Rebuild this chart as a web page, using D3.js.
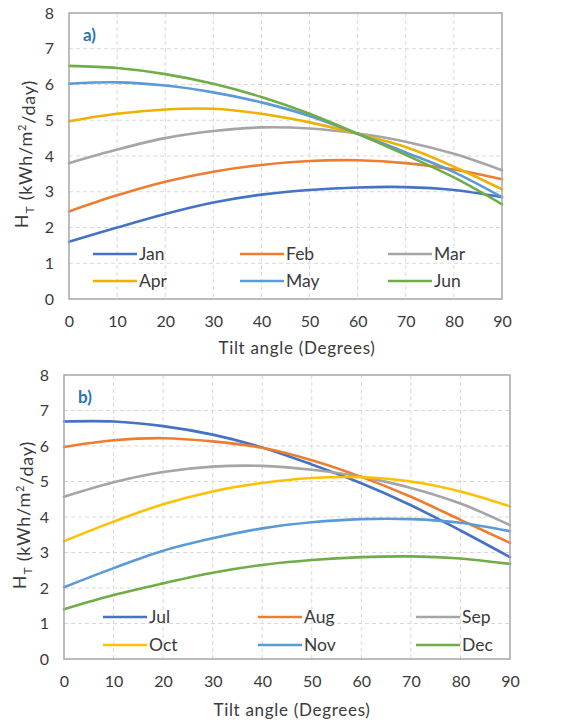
<!DOCTYPE html>
<html><head><meta charset="utf-8">
<script src="https://cdn.jsdelivr.net/npm/d3@7"></script>
<style>
html,body{margin:0;padding:0;background:#fff;}
svg{display:block;font-family:Lato,"Open Sans",sans-serif;}
</style></head>
<body>
<svg id="chart" width="562" height="722"></svg>
<script>
const angles = [0, 10, 20, 30, 40, 50, 60, 70, 80, 90];
const xTicks = [0, 10, 20, 30, 40, 50, 60, 70, 80, 90];
const yTicks = [0, 1, 2, 3, 4, 5, 6, 7, 8];

const monthsA = ["Jan", "Feb", "Mar", "Apr", "May", "Jun"];
const jan = [1.6, 2.0, 2.38, 2.7, 2.92, 3.05, 3.12, 3.13, 3.05, 2.85];
const feb = [2.45, 2.9, 3.28, 3.56, 3.75, 3.86, 3.88, 3.8, 3.62, 3.35];
const mar = [3.8, 4.18, 4.5, 4.7, 4.8, 4.77, 4.63, 4.4, 4.06, 3.6];
const apr = [4.97, 5.18, 5.3, 5.32, 5.18, 4.94, 4.62, 4.25, 3.7, 3.07];
const may = [6.02, 6.06, 5.97, 5.78, 5.5, 5.12, 4.62, 4.1, 3.55, 2.85];
const jun = [6.52, 6.46, 6.29, 6.02, 5.65, 5.18, 4.62, 4.03, 3.4, 2.65];

const monthsB = ["Jul", "Aug", "Sep", "Oct", "Nov", "Dec"];
const jul = [6.69, 6.69, 6.56, 6.32, 5.96, 5.48, 4.95, 4.33, 3.62, 2.87];
const aug = [5.97, 6.16, 6.22, 6.13, 5.95, 5.6, 5.13, 4.57, 3.92, 3.27];
const sep = [4.57, 4.98, 5.27, 5.42, 5.44, 5.33, 5.13, 4.82, 4.38, 3.77];
const oct = [3.32, 3.87, 4.36, 4.72, 4.96, 5.1, 5.12, 5.0, 4.72, 4.3];
const nov = [2.02, 2.56, 3.05, 3.4, 3.68, 3.85, 3.94, 3.94, 3.84, 3.6];
const dec = [1.4, 1.8, 2.13, 2.43, 2.65, 2.79, 2.87, 2.89, 2.83, 2.68];

const colorsA = ["#4472C4", "#ED7D31", "#A5A5A5", "#EDB100", "#5B9BD5", "#70AD47"];
const colorsB = ["#4472C4", "#ED7D31", "#A5A5A5", "#FFC000", "#5B9BD5", "#70AD47"];

const svg = d3.select("#chart");
const textColor = "#3a3a3a";

function panel(cfg) {
  const x = d3.scaleLinear().domain([0, 90]).range([cfg.x0, cfg.x1]);
  const y = d3.scaleLinear().domain([0, 8]).range([cfg.y1, cfg.y0]);
  const g = svg.append("g");

  g.selectAll(".vg").data(xTicks.slice(1, -1)).enter().append("line")
    .attr("x1", d => x(d)).attr("x2", d => x(d)).attr("y1", cfg.y0).attr("y2", cfg.y1)
    .attr("stroke", "#D9D9D9").attr("stroke-width", 1).attr("stroke-dasharray", "4,3");
  g.selectAll(".hg").data(yTicks.slice(1, -1)).enter().append("line")
    .attr("y1", d => y(d)).attr("y2", d => y(d)).attr("x1", cfg.x0).attr("x2", cfg.x1)
    .attr("stroke", "#D9D9D9").attr("stroke-width", 1).attr("stroke-dasharray", "4,3");

  const xAxis = d3.axisBottom(x).tickValues(xTicks).tickSize(0).tickPadding(17);
  const gx = g.append("g").attr("transform", `translate(0,${cfg.y1})`).call(xAxis);
  gx.select(".domain").remove();
  gx.selectAll("text").attr("fill", textColor).attr("font-size", 16).attr("font-family", "Lato,sans-serif");

  const yAxis = d3.axisLeft(y).tickValues(yTicks).tickSize(0).tickPadding(cfg.yPad);
  const gy = g.append("g").attr("transform", `translate(${cfg.x0},0)`).call(yAxis);
  gy.select(".domain").remove();
  gy.selectAll("text").attr("fill", textColor).attr("font-size", 16).attr("font-family", "Lato,sans-serif");

  const line = d3.line().x((d, i) => x(angles[i])).y(d => y(d)).curve(d3.curveCatmullRom.alpha(0.5));
  cfg.series.forEach((s, i) => {
    g.append("path").attr("d", line(s)).attr("fill", "none")
      .attr("stroke", cfg.colors[i]).attr("stroke-width", 2.6).attr("stroke-linecap", "round");
  });

  g.append("rect").attr("x", cfg.x0).attr("y", cfg.y0).attr("width", cfg.x1 - cfg.x0).attr("height", cfg.y1 - cfg.y0)
    .attr("fill", "none").attr("stroke", "#A6A6A6").attr("stroke-width", 1.5);

  g.append("text").attr("x", cfg.x0 + 14).attr("y", cfg.y0 + 28).text(cfg.label)
    .attr("fill", "#2E75B6").attr("font-weight", "bold").attr("font-size", 17);

  cfg.names.forEach((n, i) => {
    const col = i % 3, row = Math.floor(i / 3);
    const lx = cfg.x0 + cfg.legCols[col];
    const ly = cfg.y1 - cfg.legRows[row];
    g.append("line").attr("x1", lx).attr("x2", lx + 44).attr("y1", ly).attr("y2", ly)
      .attr("stroke", cfg.colors[i]).attr("stroke-width", 2.6);
    g.append("text").attr("x", lx + 46).attr("y", ly).attr("dy", "0.35em").text(n)
      .attr("fill", textColor).attr("font-size", 17.5);
  });

  g.append("text").attr("x", cfg.xTitleX).attr("y", cfg.xTitleY).attr("text-anchor", "middle")
    .attr("fill", textColor).attr("font-size", 17).attr("letter-spacing", 0.7)
    .attr("dy", "0.35em").text("Tilt angle (Degrees)");

  const yt = g.append("text").attr("transform", `translate(${cfg.yTitleX},${(cfg.y0 + cfg.y1) / 2 - 2}) rotate(-90)`)
    .attr("text-anchor", "middle").attr("fill", textColor).attr("font-size", 18)
    .attr("letter-spacing", 0.8).attr("dy", "0.35em");
  yt.append("tspan").text("H");
  yt.append("tspan").text("T").attr("font-size", 12).attr("dy", "0.5em");
  yt.append("tspan").text(" (kWh/m").attr("dy", "-0.15em");
  yt.append("tspan").text("2").attr("font-size", 11).attr("dy", "-0.55em");
  yt.append("tspan").text("/day)").attr("dy", "0.55em");
}

panel({
  x0: 69, x1: 502, y0: 13, y1: 299, yPad: 15,
  series: [jan, feb, mar, apr, may, jun], names: monthsA, colors: colorsA, label: "a)",
  legCols: [24, 171, 319], legRows: [45, 18],
  xTitleX: 297, xTitleY: 348, yTitleX: 22
});

panel({
  x0: 64, x1: 510, y0: 375, y1: 659, yPad: 15,
  series: [jul, aug, sep, oct, nov, dec], names: monthsB, colors: colorsB, label: "b)",
  legCols: [39, 194, 352], legRows: [42, 14],
  xTitleX: 292, xTitleY: 710, yTitleX: 20
});
</script>
</body></html>
